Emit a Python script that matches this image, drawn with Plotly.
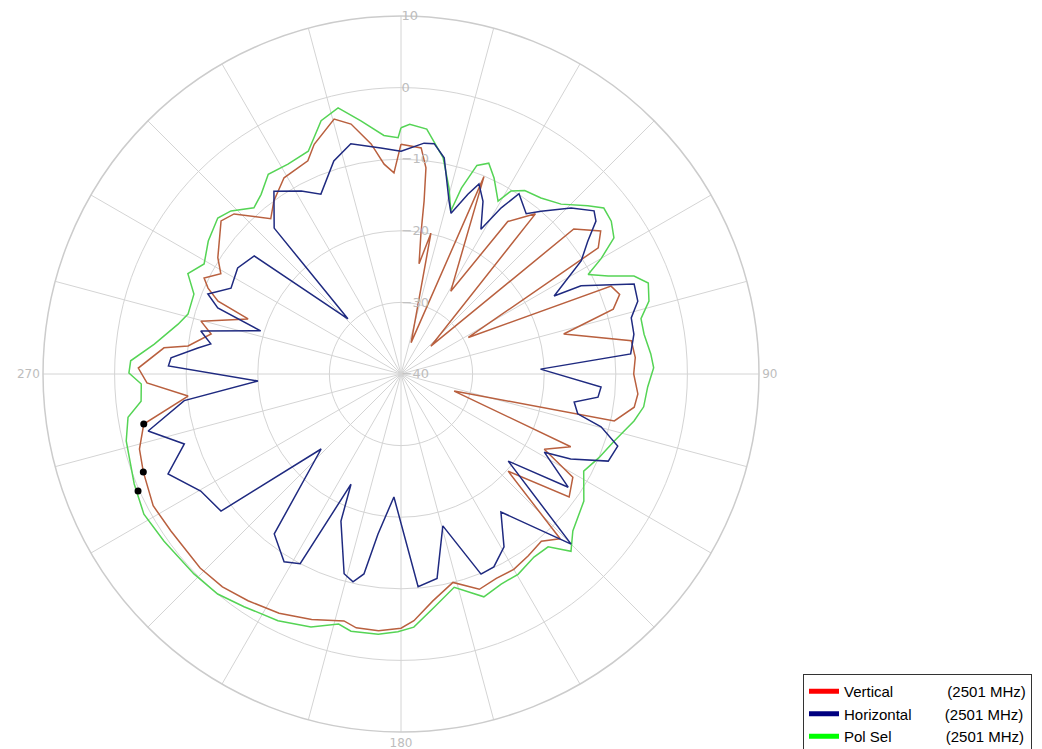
import plotly.graph_objects as go

# Pol Sel (green)
pol_theta = [0, 2, 6, 11, 14.5, 17, 18, 20, 22.6, 25.4, 29.3, 31, 34, 38.5, 43.3, 48, 50.7, 54,
             57.4, 60, 62, 64.7, 67.2, 69.8, 73.6, 77, 80.7, 85.4, 88.6, 93, 97.7, 101.4, 107.5,
             113, 118, 124.8, 132.4, 136.2, 139.6, 144, 149.7, 154.5, 159.6, 166, 171.9, 177.1,
             180.7, 185, 191, 194, 199.6, 206.5, 214, 219.8, 226, 234.8, 241.4, 247.6, 256.3, 261,
             264, 267.8, 270.2, 272.8, 276.9, 282.6, 285.7, 291.1, 295.2, 299.2, 304.6, 310.4,
             313.8, 318.5, 322.1, 326.4, 331.7, 337.4, 342.5, 346.7, 351, 355.9, 359.3, 360]
pol_r = [-5.6, -5.1, -5.6, -9.2, -13.2, -16.2, -12.7, -9.0, -8.1, -9.7, -12.3, -10.2, -9.1, -8.6,
         -7.4, -4.9, -3.4, -3.7, -4.7, -7.7, -10.4, -8.0, -4.7, -3.2, -3.9, -5.6, -5.6, -5.0, -4.7,
         -5.5, -5.8, -6.8, -8.8, -10.0, -11.1, -8.9, -7.5, -5.7, -8.3, -8.4, -7.6, -7.5, -6.8, -9.3,
         -7.1, -4.6, -4.0, -3.5, -3.4, -4.0, -2.5, -1.5, -0.8, 0.0, 0.2, 0.5, 0.9, 0.3, -0.5, -1.4,
         -3.5, -3.7, -2.0, -2.2, -5.3, -8.1, -9.1, -9.0, -7.1, -8.5, -7.3, -6.4, -7.1, -9.0, -8.2,
         -6.5, -6.7, -6.3, -2.9, -1.8, -4.2, -6.6, -7.0, -5.6]

# Vertical (red)
ver_theta = [0, 5.1, 6.9, 7.6, 8.1, 9.3, 12, 17.9, 22.8, 31, 35, 40, 47, 50, 54.4, 57.4, 61.5,
             67.3, 70, 73, 76.2, 81.8, 86, 90, 94.8, 98.1, 102.4, 107.8, 113.2, 117.7, 121, 126.2,
             132.2, 136, 140, 145, 150, 155, 160, 166, 172, 177, 180, 185, 190, 193, 200, 207, 214,
             220, 226, 235.7, 242, 249.2, 254, 259, 264.1, 268, 271.3, 276.3, 277.5, 281.9, 284.8,
             289.8, 291.7, 294, 296, 299.1, 302.4, 310.4, 313.8, 320, 323.7, 329.2, 336.4, 339.3,
             345.3, 348.7, 352.6, 355.4, 358, 360]
ver_r = [-7.9, -8.3, -11.0, -15.6, -20.3, -24.4, -19.9, -35.4, -10.1, -26.5, -14.0, -10.8, -34.3,
         -8.5, -5.7, -7.3, -29.3, -8.2, -7.5, -9.0, -16.6, -7.5, -7.2, -7.5, -6.8, -7.1, -9.5, -32.2,
         -14.2, -17.4, -12.0, -10.9, -19.8, -8.0, -9.5, -9.0, -8.5, -8.5, -8.0, -10.0, -8.0, -5.5,
         -4.5, -4.0, -4.0, -4.6, -3.5, -2.5, -1.8, -1.2, -1.0, -1.1, -0.8, -1.5, -2.0, -3.4, -10.1,
         -4.5, -3.3, -6.7, -10.0, -12.9, -11.1, -17.3, -12.5, -10.5, -9.4, -11.2, -9.7, -7.0, -7.7,
         -11.7, -10.0, -8.1, -7.5, -5.7, -3.2, -4.4, -7.6, -10.6, -11.9, -7.9]

# Horizontal (blue)
hor_theta = [0, 5.7, 8.2, 11.3, 15.5, 17.3, 20.4, 22.3, 25.4, 28.9, 31.1, 33.2, 38, 40.7, 45.7,
             49.8, 51.9, 54.6, 57.9, 63, 63.9, 68.9, 72.9, 76.3, 80.3, 85, 88, 93.7, 96.7, 99.2,
             102.7, 104.8, 108.4, 112.8, 116.6, 118.6, 124.1, 129.1, 135, 144.1, 149.2, 154.3,
             158.2, 164.6, 170, 175.4, 183.3, 188.2, 190.5, 193, 195.9, 202.2, 204.4, 208, 211.9,
             218.4, 226.8, 232.7, 239.7, 246.8, 252.1, 257.3, 263, 267.2, 272, 274, 277.3, 279,
             282.1, 287.1, 289.8, 292.5, 296.8, 303, 308.8, 316.1, 319, 325.2, 331.4, 336, 342.5,
             347.7, 354.9, 360]
hor_r = [-8.9, -7.6, -7.5, -9.2, -14.9, -16.5, -13.2, -11.3, -13.3, -16.9, -12.9, -9.9, -11.6,
         -10.0, -6.8, -4.7, -5.4, -8.0, -10.3, -16.0, -12.0, -5.1, -5.4, -6.9, -7.0, -7.8, -20.5,
         -12.0, -12.3, -15.5, -14.7, -11.1, -8.1, -8.6, -13.5, -17.2, -11.8, -20.7, -6.4, -16.2,
         -11.9, -10.1, -9.9, -18.0, -11.0, -10.2, -22.8, -17.4, -11.6, -10.2, -11.0, -17.8, -23.1,
         -10.0, -9.1, -11.5, -24.7, -8.4, -7.6, -4.6, -8.2, -3.8, -9.5, -20.0, -7.5, -7.8, -11.4,
         -13.1, -11.4, -19.5, -12.8, -10.8, -13.4, -12.8, -13.7, -29.3, -13.0, -8.9, -10.9, -12.5,
         -8.8, -7.1, -8.3, -8.9]

# marker dots
dot_theta = [259.0, 249.2, 246.0]
dot_r = [-3.4, -1.5, 0.2]

legend_text = [
    "Vertical" + "&nbsp;" * 13 + "(2501 MHz)",
    "Horizontal" + "&nbsp;" * 8 + "(2501 MHz)",
    "Pol Sel" + "&nbsp;" * 13 + "(2501 MHz)",
]
legend_colors = ["#ff0000", "#000080", "#00ff00"]

fig = go.Figure()

fig.add_trace(go.Scatterpolar(theta=pol_theta, r=pol_r, mode="lines",
                              line=dict(color="#55d455", width=1.5), showlegend=False))
fig.add_trace(go.Scatterpolar(theta=ver_theta, r=ver_r, mode="lines",
                              line=dict(color="#b9603f", width=1.5), showlegend=False))
fig.add_trace(go.Scatterpolar(theta=hor_theta, r=hor_r, mode="lines",
                              line=dict(color="#1f2a80", width=1.5), showlegend=False))
fig.add_trace(go.Scatterpolar(theta=dot_theta, r=dot_r, mode="markers",
                              marker=dict(color="black", size=7), showlegend=False))

# legend-only entries
for txt, col in zip(legend_text, legend_colors):
    fig.add_trace(go.Scatterpolar(theta=[None], r=[None], mode="lines", name=txt,
                                  line=dict(color=col, width=5)))

ang_ticks = list(range(0, 360, 15))
ang_text = [{90: "90", 180: "180", 270: "270"}.get(a, "") for a in ang_ticks]

fig.update_layout(
    width=1042, height=749,
    margin=dict(l=0, r=0, t=0, b=0),
    paper_bgcolor="white",
    font=dict(family="DejaVu Sans", size=12, color="#bdbdbd"),
    polar=dict(
        domain=dict(x=[35 / 1042, 751 / 1042], y=[25 / 749, 741 / 749]),
        bgcolor="white",
        angularaxis=dict(direction="clockwise", rotation=90, tickvals=ang_ticks,
                         ticktext=ang_text, showline=True, linecolor="#cccccc", linewidth=1.5,
                         gridcolor="#d4d4d4", gridwidth=1.3, ticks="",
                         tickfont=dict(size=12, color="#bdbdbd")),
        radialaxis=dict(range=[-40, 10], tickvals=[-40, -30, -20, -10, 0, 10],
                        angle=90, tickangle=90, showline=False, gridcolor="#d4d4d4",
                        gridwidth=1.3, ticks="", tickfont=dict(size=13, color="#bdbdbd")),
    ),
    showlegend=True,
    legend=dict(x=795 / 1042, y=1 - 666 / 749, xanchor="left", yanchor="top",
                bordercolor="#333333", borderwidth=1, bgcolor="white",
                font=dict(family="Liberation Sans", size=15, color="black"),
                itemwidth=30, tracegroupgap=0),
)

fig.write_html("out.html")
